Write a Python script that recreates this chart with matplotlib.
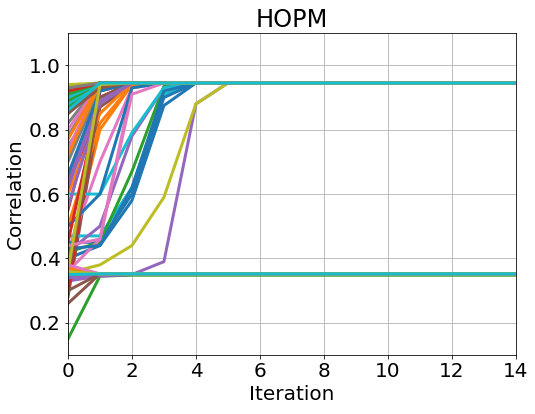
import numpy as np
import matplotlib
matplotlib.use("Agg")
import matplotlib.pyplot as plt

# --- Data ---
N_ITER = 15          # iterations 0..14
HIGH = 0.945         # upper plateau
LOW = 0.352          # lower plateau

# transient part of each run; the run stays at its last value afterwards
runs = [
    [0.40, 0.44, 0.58, 0.875, HIGH],
    [0.40, 0.80, 0.94, HIGH],
    [0.15, 0.345, 0.348],
    [0.55, 0.93, HIGH],
    [0.33, 0.345, 0.35, 0.39, 0.88, HIGH],
    [0.28, 0.87, 0.94, HIGH],
    [0.42, 0.70, 0.93, HIGH],
    [0.78, 0.94, HIGH],
    [0.355, 0.38, 0.44, 0.59, 0.88, HIGH],
    [0.47, 0.47, 0.62, 0.91, HIGH],

    [0.45, 0.45, 0.60, 0.90, HIGH],
    [0.60, 0.85, HIGH],
    [0.42, 0.45, 0.67, 0.935, HIGH],
    [0.62, 0.94, HIGH],
    [0.42, 0.50, 0.78, 0.93, HIGH],
    [0.26, LOW],
    [0.36, 0.46, 0.93, HIGH],
    [0.82, HIGH],
    [0.94, HIGH],
    [0.60, 0.60, 0.79, 0.93, HIGH],

    [0.43, 0.44, 0.62, 0.92, HIGH],
    [0.50, 0.82, 0.94, HIGH],
    [0.87, HIGH],
    [0.30, 0.92, HIGH],
    [0.65, 0.90, HIGH],
    [0.75, 0.89, HIGH],
    [0.74, HIGH],
    [0.70, 0.93, HIGH],
    [0.92, HIGH],
    [0.88, HIGH],

    [0.50, 0.60, 0.93, HIGH],
    [0.72, HIGH],
    [0.89, HIGH],
    [0.45, 0.90, HIGH],
    [0.56, 0.88, HIGH],
    [0.34, 0.90, HIGH],
    [0.80, HIGH],
    [0.85, HIGH],
    [0.93, HIGH],
    [0.90, HIGH],

    [0.66, 0.92, HIGH],
    [0.77, HIGH],
    [0.91, HIGH],
    [0.92, HIGH],
    [0.62, 0.89, HIGH],
    [0.85, 0.93, HIGH],
    [0.44, 0.46, 0.91, HIGH],
    [0.93, HIGH],
    [0.36, 0.94, HIGH],
    [0.86, HIGH],

    # runs stuck on the lower plateau
    [0.34, LOW],
    [0.37, LOW],
    [0.35, LOW],
    [0.36, LOW],
    [0.34, 0.347, LOW],
    [0.30, LOW],
    [0.38, LOW],
    [0.35, LOW],
    [0.36, LOW],
    [0.35, LOW],
]

iterations = np.arange(N_ITER)

fig = plt.figure(figsize=(535 / 72, 414 / 72), dpi=72)
ax = fig.add_axes([0.127, 0.1425, 0.837, 0.7775])

for r in runs:
    y = np.concatenate([r, np.full(N_ITER - len(r), r[-1])])
    ax.plot(iterations, y, linewidth=3)

ax.set_xlim(0, 14)
ax.set_ylim(0.1, 1.1)
ax.set_xticks(np.arange(0, 15, 2))
ax.set_yticks([0.2, 0.4, 0.6, 0.8, 1.0])
ax.tick_params(labelsize=20)
ax.grid(True, color="#b0b0b0")
ax.set_axisbelow(True)
ax.set_xlabel("Iteration", fontsize=20)
ax.set_ylabel("Correlation", fontsize=20)
ax.set_title("HOPM", fontsize=24)

fig.savefig("out.png", dpi=72)
